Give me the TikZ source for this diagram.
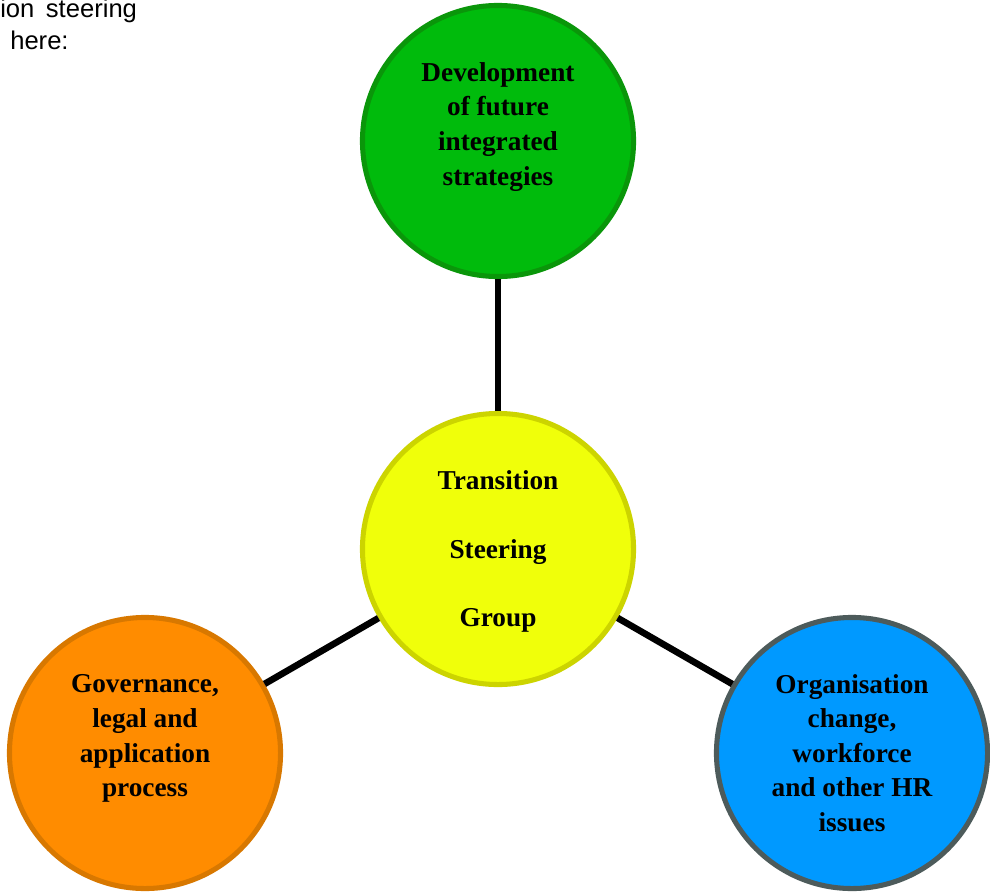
\documentclass[tikz,border=0pt]{standalone}
\usepackage{fontspec}
\setmainfont{Liberation Serif}
\setsansfont{Liberation Sans}
\usetikzlibrary{positioning}

\definecolor{strategyfill}{HTML}{00BB0C}
\definecolor{strategyline}{HTML}{0A960A}
\definecolor{steerfill}{HTML}{F0FF0A}
\definecolor{steerline}{HTML}{CCD400}
\definecolor{govfill}{HTML}{FF8C00}
\definecolor{govline}{HTML}{D87800}
\definecolor{hrfill}{HTML}{0099FF}
\definecolor{hrline}{HTML}{4D5B5B}

\tikzset{
  group/.style={circle, minimum size=6.775cm, line width=3.6pt, align=center,
    inner sep=0pt, font=\fontsize{19.4}{24.6}\selectfont\bfseries},
  link/.style={line width=4.7pt, black},
  note/.style={font=\sffamily\fontsize{18.2}{22}\selectfont, inner sep=0pt, anchor=base west}
}

\begin{document}
\begin{tikzpicture}[x=0.025cm, y=-0.025cm]
	\useasboundingbox (0,0) rectangle (990,893);
	\node[note] (note1) at (0,18) {ion\hspace{0.45em}steering};
	\node[note] (note2) at (10,50) {here:};

	\node[group, draw=steerline, fill=steerfill, font=\fontsize{19.4}{48.7}\selectfont\bfseries] (tsg) at (498,549) {\rule{0pt}{17.4pt}Transition\\Steering\\Group};
	\node[group, draw=strategyline, fill=strategyfill] (dev) at (498,141) {Development\\of future\\integrated\\strategies\\~};
	\node[group, draw=govline, fill=govfill] (gov) at (145,753) {Governance,\\legal and\\application\\process\\~};
	\node[group, draw=hrline, fill=hrfill] (hr) at (852,753) {Organisation\\change,\\workforce\\and other HR\\issues};

	\draw[link] (tsg) -- (dev);
	\draw[link] (tsg) -- (gov);
	\draw[link] (tsg) -- (hr);
\end{tikzpicture}
\end{document}
